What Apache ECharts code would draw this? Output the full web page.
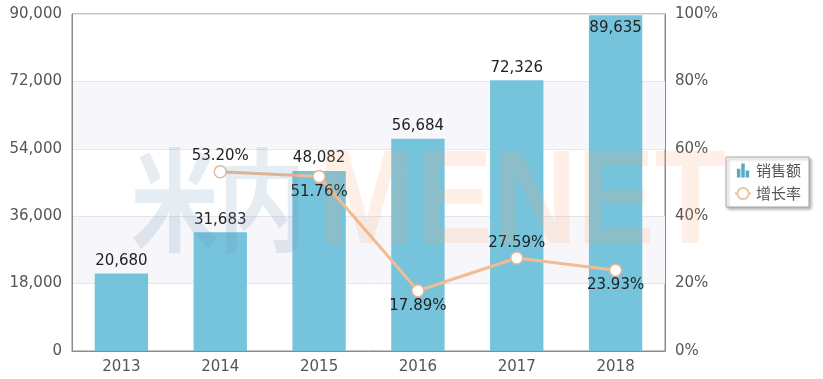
<!DOCTYPE html>
<html><head><meta charset="utf-8">
<script src="https://cdn.jsdelivr.net/npm/echarts@6/dist/echarts.min.js"></script>
<style>html,body{margin:0;padding:0;background:#fff}#c{width:823px;height:379px}</style>
</head><body><div id="c"></div>
<script>
var categories = ['2013','2014','2015','2016','2017','2018'];
var salesValues = [20680, 31683, 48082, 56684, 72326, 89635];
var growthValues = [null, 53.20, 51.76, 17.89, 27.59, 23.93];
var growthLabelPos = [null, 'top', 'bottom', 'bottom', 'top', 'bottom'];
var seriesNames = ['销售额', '增长率'];

var font = '"DejaVu Sans", Verdana, sans-serif';
var chart = echarts.init(document.getElementById('c'));
chart.setOption({
  animation: false,
  backgroundColor: '#fff',
  grid: {left: 72, right: 158, top: 14, bottom: 28, show: true, borderColor: '#8a8a8a', borderWidth: 1, backgroundColor: 'transparent'},
  legend: {
    orient: 'vertical', left: 726, top: 157, padding: [6, 8, 6, 8], itemGap: 8,
    itemWidth: 16, itemHeight: 14,
    backgroundColor: '#fff', borderColor: '#aaa', borderWidth: 1,
    shadowColor: 'rgba(0,0,0,0.35)', shadowBlur: 3, shadowOffsetX: 2, shadowOffsetY: 2,
    textStyle: {fontFamily: '"Noto Sans CJK SC", sans-serif', fontSize: 15, color: '#555'},
    data: [
      {name: seriesNames[0], icon: 'path://M0,6H4V16H0Z M5,0H9V16H5Z M10,8H14V16H10Z', itemStyle: {color: '#5aa9c4'}},
      {name: seriesNames[1], itemStyle: {color: '#fff', borderColor: '#e8c6ad'}}
    ]
  },
  xAxis: {
    type: 'category', data: categories,
    axisLine: {lineStyle: {color: '#8a8a8a'}}, axisTick: {show: false},
    axisLabel: {fontFamily: font, fontSize: 15, color: '#555', margin: 9}
  },
  yAxis: [
    {type: 'value', min: 0, max: 90000, interval: 18000,
     axisLine: {show: true, lineStyle: {color: '#8a8a8a'}}, axisTick: {show: false},
     axisLabel: {fontFamily: font, fontSize: 15, color: '#555', margin: 10,
       formatter: function(v){return v.toLocaleString('en-US');}},
     splitLine: {lineStyle: {color: '#e6e4ec'}},
     splitArea: {show: true, areaStyle: {color: ['rgba(255,255,255,0)', '#f7f6fa']}}},
    {type: 'value', min: 0, max: 100, interval: 20,
     axisLine: {show: true, lineStyle: {color: '#8a8a8a'}}, axisTick: {show: false},
     axisLabel: {fontFamily: font, fontSize: 15, color: '#555', margin: 10, formatter: '{value}%'},
     splitLine: {show: false}}
  ],
  graphic: [
    {type: 'text', x: 131, y: 144, scaleX: 0.78, z: 100, silent: true,
     style: {text: '米内', font: 'bold 112px "Noto Sans CJK SC", sans-serif', fill: 'rgba(110,150,185,0.18)'}},
    {type: 'text', x: 318, y: 139, scaleX: 0.87, z: 100, silent: true,
     style: {text: 'MENET', font: 'bold 134px "Liberation Sans", Arial, sans-serif', fill: 'rgba(248,165,105,0.17)'}}
  ],
  series: [
    {name: seriesNames[0], type: 'bar', yAxisIndex: 0, data: salesValues.map(function(v, i){
        return {value: v, label: {position: i === salesValues.length - 1 ? 'insideTop' : 'top'}};
      }),
     barWidth: '54%', itemStyle: {color: '#76c3dc'},
     label: {show: true, fontFamily: font, fontSize: 15, color: '#222', distance: 5,
       formatter: function(p){return p.value.toLocaleString('en-US');}}},
    {name: seriesNames[1], type: 'line', yAxisIndex: 1, data: growthValues.map(function(v, i){
        return v === null ? null : {value: v, label: {position: growthLabelPos[i]}};
      }),
     symbol: 'circle', symbolSize: 12, connectNulls: false,
     lineStyle: {color: '#f2bb93', width: 3},
     itemStyle: {color: '#ffffff', borderColor: '#e3b798', borderWidth: 1.5},
     label: {show: true, fontFamily: font, fontSize: 15, color: '#222', distance: 1,
       formatter: function(p){return p.value.toFixed(2) + '%';}}}
  ]
});
</script></body></html>
